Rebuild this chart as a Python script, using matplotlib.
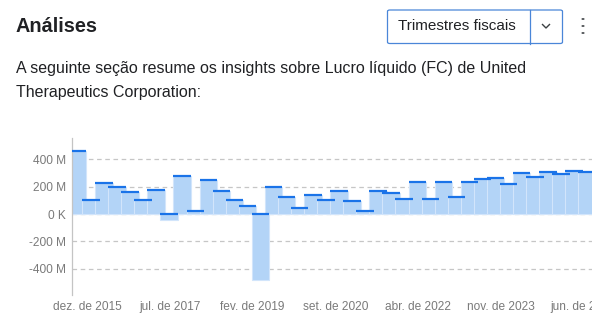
import numpy as np
import matplotlib
matplotlib.use("Agg")
import matplotlib.pyplot as plt
from matplotlib.patches import FancyBboxPatch, Circle
from matplotlib.lines import Line2D
from matplotlib.transforms import Bbox, TransformedBbox

plt.rcParams['font.family'] = ['Liberation Sans', 'DejaVu Sans']
plt.rcParams['lines.scale_dashes'] = False

# net income per fiscal quarter, millions
net_income = [463, 105, 229, 200, 159, 105, 178, -44, 276, 20,
              246, 171, 105, 61, -480, 200, 127, 46, 137, 105,
              171, 98, 24, 171, 156, 112, 237, 112, 237, 127,
              237, 259, 266, 217, 302, 273, 310, 295, 317, 310]
x_labels = ["dez. de 2015", "jul. de 2017", "fev. de 2019", "set. de 2020",
            "abr. de 2022", "nov. de 2023", "jun. de 2025"]
y_ticks = [-400, -200, 0, 200, 400]
y_labels = ["-400 M", "-200 M", "0 K", "200 M", "400 M"]

W, H = 609, 332
fig = plt.figure(figsize=(W / 100, H / 100), dpi=100)

def px(x):
    return x / W

def py(y):
    return 1 - y / H

# header
fig.text(px(16), py(26), "Análises", fontsize=14.3, fontweight='bold',
         va='center', color='#202124')
fig.text(px(16), py(68), "A seguinte seção resume os insights sobre Lucro líquido (FC) de United",
         fontsize=11.5, va='center', color='#202124')
fig.text(px(16), py(92), "Therapeutics Corporation:",
         fontsize=11.5, va='center', color='#202124')

btn = FancyBboxPatch((px(387.5), py(43.5)), px(562.5) - px(387.5), py(10) - py(43.5),
                     boxstyle="round,pad=0,rounding_size=0.004", transform=fig.transFigure,
                     facecolor='white', edgecolor='#4a86d8', linewidth=0.9)
fig.add_artist(btn)
fig.add_artist(Line2D([px(529.7), px(529.7)], [py(10), py(43.5)],
                      transform=fig.transFigure, color='#4a86d8', linewidth=0.9))
fig.text(px(397.5), py(26.5), "Trimestres fiscais", fontsize=11, va='center', color='#202124')
fig.add_artist(Line2D([px(542.5), px(546), px(549.5)], [py(24.5), py(28), py(24.5)],
                      transform=fig.transFigure, color='#3c4043', linewidth=1.0))
for yy in (19, 26, 33):
    fig.add_artist(Circle((px(583), py(yy)), 1.6 / W, transform=fig.transFigure,
                          facecolor='#3c4043', edgecolor='none'))

# chart
ax = fig.add_axes([px(72), py(295), px(592) - px(72), py(138) - py(295)])
idx = np.arange(len(net_income))
vals = np.array(net_income)
bw = 1.34

ax.bar(idx, vals, width=bw, color='#b3d4f7', edgecolor='#d2e5fb', linewidth=0.8, zorder=2)
tops = np.maximum(vals, 0)
ax.hlines(tops, idx - bw / 2, idx + bw / 2, color='#1a73e8', linewidth=1.6, zorder=3)

ax.set_xlim(-0.44, 39.38)
ax.set_ylim(-592, 556)
ax.set_yticks(y_ticks)
ax.set_yticklabels(y_labels)
ax.yaxis.grid(True, color='#c6c6c6', linestyle=(0, (3.3, 2.6)), linewidth=0.9, zorder=0)
ax.set_axisbelow(True)
ax.tick_params(axis='y', length=0, pad=4.5, labelsize=8.6, labelcolor='#7a7a7a')
ax.set_xticks([])
for side in ('top', 'right', 'bottom'):
    ax.spines[side].set_visible(False)
ax.spines['left'].set_color('#c4c4c4')
ax.spines['left'].set_linewidth(0.9)

# date labels every 19 months, clipped at the right edge of the plot like the reference
clip = TransformedBbox(Bbox([[0, 0], [px(592), 1]]), fig.transFigure)
label_pos = 0.73 + (19 / 3) * np.arange(len(x_labels))
for xp, lbl in zip(label_pos, x_labels):
    t = ax.text(xp, -0.04, lbl, transform=ax.get_xaxis_transform(), ha='center', va='top',
                fontsize=8.6, color='#7a7a7a', clip_on=True)
    t.set_clip_box(clip)

fig.savefig("out.png", dpi=100)
